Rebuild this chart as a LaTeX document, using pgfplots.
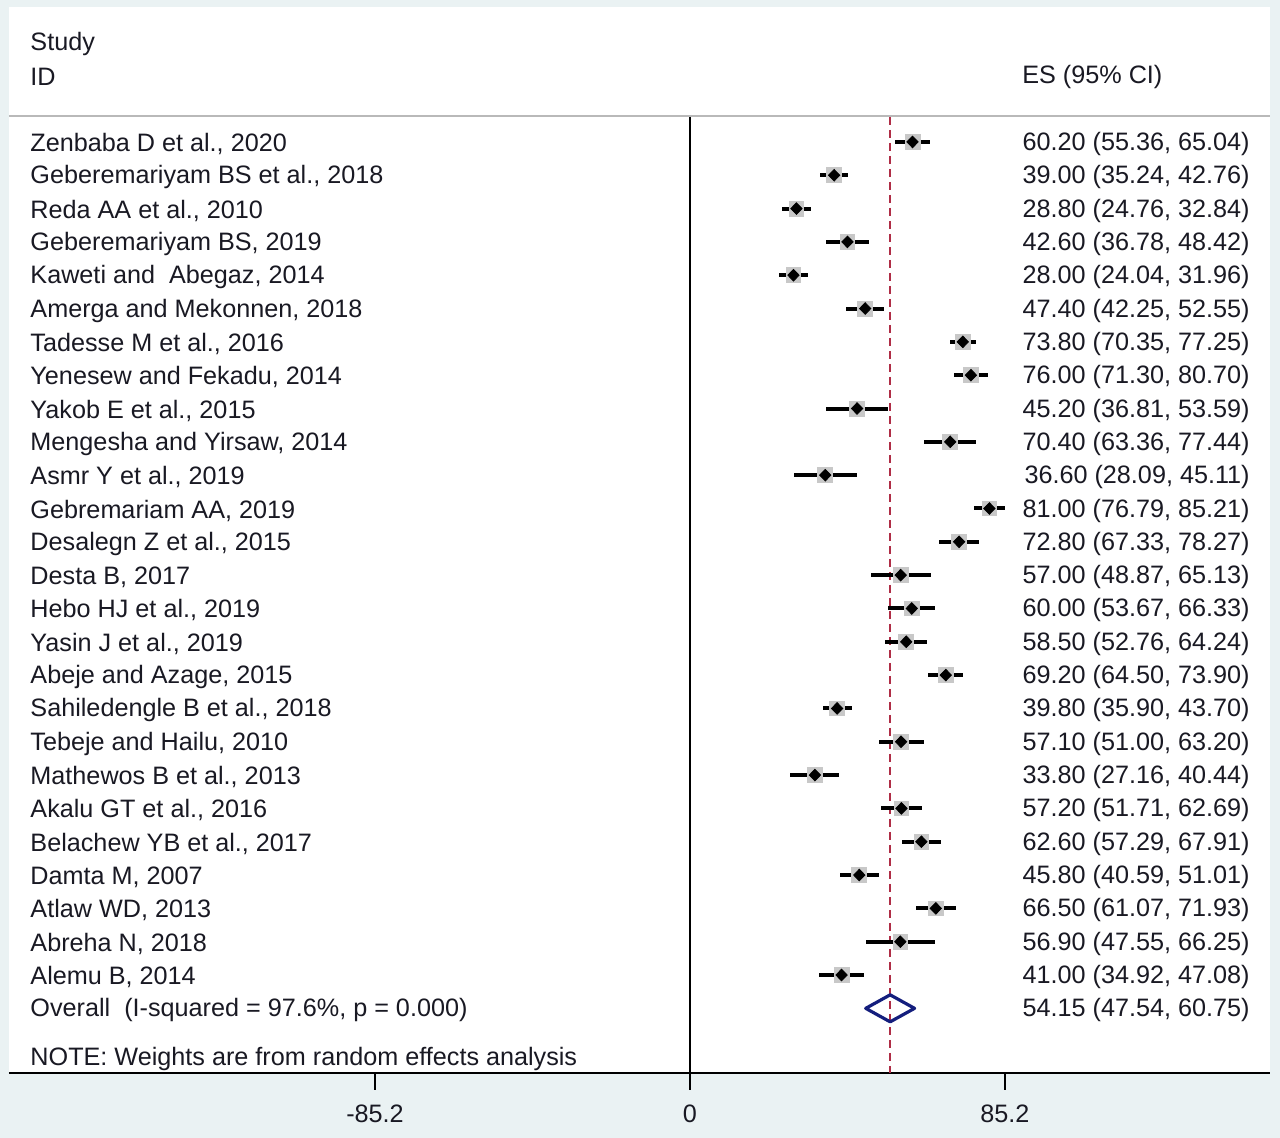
\documentclass[border=0pt]{standalone}
\usepackage{pgfplots}
\pgfplotsset{compat=1.18}
\usepackage{pgfplotstable}
\usepackage{fontspec}
\setmainfont{Liberation Sans}

\definecolor{stbg}{RGB}{234,242,243}
\definecolor{sepgrey}{RGB}{185,185,185}
\definecolor{boxgrey}{RGB}{200,200,200}
\definecolor{refred}{RGB}{175,45,70}
\definecolor{ovnavy}{RGB}{20,30,125}
\definecolor{txt}{RGB}{25,25,35}

\tikzset{lab/.style={font=\fontsize{12.6}{15}\selectfont, inner sep=0pt, text=txt, yshift=-1pt}}

% row, effect size, lower and upper 95% CI
\pgfplotstableread{
row es lo hi
1 60.20 55.36 65.04
2 39.00 35.24 42.76
3 28.80 24.76 32.84
4 42.60 36.78 48.42
5 28.00 24.04 31.96
6 47.40 42.25 52.55
7 73.80 70.35 77.25
8 76.00 71.30 80.70
9 45.20 36.81 53.59
10 70.40 63.36 77.44
11 36.60 28.09 45.11
12 81.00 76.79 85.21
13 72.80 67.33 78.27
14 57.00 48.87 65.13
15 60.00 53.67 66.33
16 58.50 52.76 64.24
17 69.20 64.50 73.90
18 39.80 35.90 43.70
19 57.10 51.00 63.20
20 33.80 27.16 40.44
21 57.20 51.71 62.69
22 62.60 57.29 67.91
23 45.80 40.59 51.01
24 66.50 61.07 71.93
25 56.90 47.55 66.25
26 41.00 34.92 47.08
}\studies

\newcommand{\study}[3]{%
  \node[lab, anchor=west] at (axis cs:-178.5,-#1) {#2};
  \node[lab, anchor=east] at (axis cs:151.5,-#1) {#3};}

\begin{document}
\begin{tikzpicture}
\path[use as bounding box] (0,0) rectangle (640pt,569pt);
\fill[stbg] (0,0) rectangle (640pt,569pt);
\begin{axis}[
  at={(4.5pt,32.5pt)}, anchor=south west,
  scale only axis, width=630.5pt, height=533pt,
  xmin=-184.2, xmax=156.9, ymin=-28.94, ymax=3.05,
  axis background/.style={fill=white},
  axis x line=bottom, axis y line=none,
  x axis line style={-, line width=1pt, black},
  xtick={-85.2,0,85.2}, xticklabels={-85.2,0,85.2},
  tick align=outside, major tick length=8.5pt,
  xtick style={line width=0.8pt, black},
  xticklabel style={font=\fontsize{12.6}{15}\selectfont, text=txt, yshift=-4pt},
  ytick=\empty,
  clip=false,
]
% header separator and reference lines
\draw[sepgrey, line width=1pt] (axis cs:-184.2,-0.22) -- (axis cs:156.9,-0.22);
\draw[black, line width=0.8pt] (axis cs:0,-0.25) -- (axis cs:0,-28.94);
\draw[refred, line width=0.8pt, dash pattern=on 4pt off 2.5pt] (axis cs:54.15,-0.25) -- (axis cs:54.15,-28.94);

% weight boxes
\addplot[only marks, mark=square*, mark size=3.7pt, boxgrey, mark options={draw=none}]
  table[x=es, y expr=-\thisrow{row}] {\studies};
% confidence intervals and point estimates
\addplot[only marks, mark=diamond*, mark size=2.9pt, black, mark options={xscale=1.3},
  error bars/.cd, x dir=both, x explicit,
  error mark=none, error bar style={line width=2pt, black}]
  table[x=es, y expr=-\thisrow{row},
        x error minus expr=\thisrow{es}-\thisrow{lo},
        x error plus expr=\thisrow{hi}-\thisrow{es}] {\studies};
% overall diamond
\addplot[ovnavy, line width=1.6pt, line join=round] coordinates {
  (47.54,-27) (54.15,-26.595) (60.75,-27) (54.15,-27.405) (47.54,-27) (54.15,-26.595)};

% headers
\node[lab, anchor=west] at (axis cs:-178.5,2) {Study};
\node[lab, anchor=west] at (axis cs:-178.5,1) {ID};
\node[lab, anchor=west] at (axis cs:89.8,1) {ES (95\% CI)};

% study labels
\study{1}{Zenbaba D et al., 2020}{60.20 (55.36, 65.04)}
\study{2}{Geberemariyam BS et al., 2018}{39.00 (35.24, 42.76)}
\study{3}{Reda AA et al., 2010}{28.80 (24.76, 32.84)}
\study{4}{Geberemariyam BS, 2019}{42.60 (36.78, 48.42)}
\study{5}{Kaweti and\ \ Abegaz, 2014}{28.00 (24.04, 31.96)}
\study{6}{Amerga and Mekonnen, 2018}{47.40 (42.25, 52.55)}
\study{7}{Tadesse M et al., 2016}{73.80 (70.35, 77.25)}
\study{8}{Yenesew and Fekadu, 2014}{76.00 (71.30, 80.70)}
\study{9}{Yakob E et al., 2015}{45.20 (36.81, 53.59)}
\study{10}{Mengesha and Yirsaw, 2014}{70.40 (63.36, 77.44)}
\study{11}{Asmr Y et al., 2019}{36.60 (28.09, 45.11)}
\study{12}{Gebremariam AA, 2019}{81.00 (76.79, 85.21)}
\study{13}{Desalegn Z et al., 2015}{72.80 (67.33, 78.27)}
\study{14}{Desta B, 2017}{57.00 (48.87, 65.13)}
\study{15}{Hebo HJ et al., 2019}{60.00 (53.67, 66.33)}
\study{16}{Yasin J et al., 2019}{58.50 (52.76, 64.24)}
\study{17}{Abeje and Azage, 2015}{69.20 (64.50, 73.90)}
\study{18}{Sahiledengle B et al., 2018}{39.80 (35.90, 43.70)}
\study{19}{Tebeje and Hailu, 2010}{57.10 (51.00, 63.20)}
\study{20}{Mathewos B et al., 2013}{33.80 (27.16, 40.44)}
\study{21}{Akalu GT et al., 2016}{57.20 (51.71, 62.69)}
\study{22}{Belachew YB et al., 2017}{62.60 (57.29, 67.91)}
\study{23}{Damta M, 2007}{45.80 (40.59, 51.01)}
\study{24}{Atlaw WD, 2013}{66.50 (61.07, 71.93)}
\study{25}{Abreha N, 2018}{56.90 (47.55, 66.25)}
\study{26}{Alemu B, 2014}{41.00 (34.92, 47.08)}
\study{27}{Overall\ \ (I-squared = 97.6\%, p = 0.000)}{54.15 (47.54, 60.75)}
\node[lab, anchor=west] at (axis cs:-178.5,-28.47) {NOTE: Weights are from random effects analysis};
\end{axis}
\end{tikzpicture}
\end{document}
